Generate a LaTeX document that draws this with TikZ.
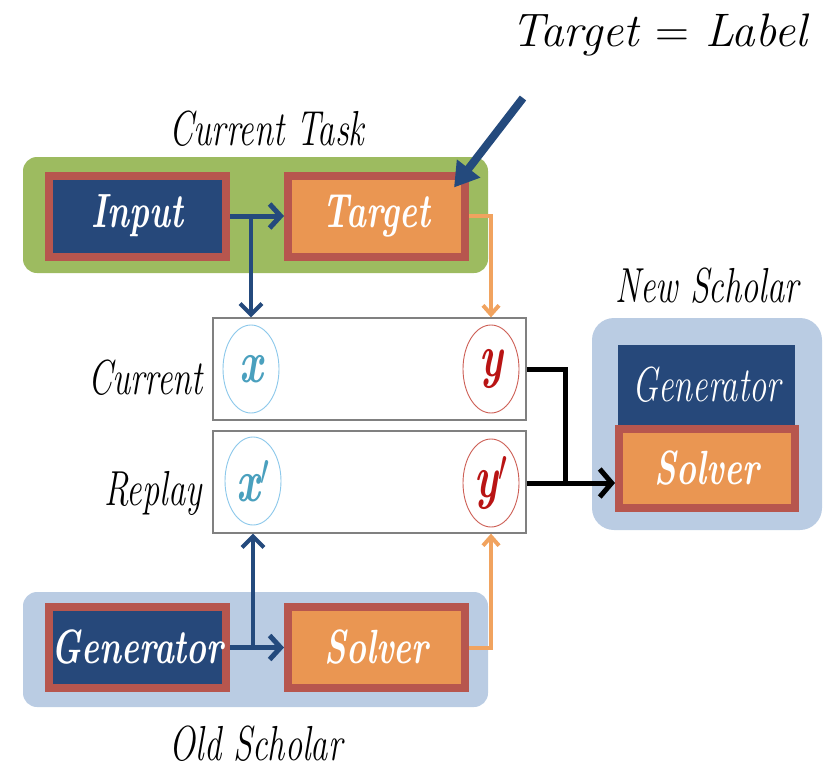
\documentclass[tikz,border=0pt]{standalone}
\usepackage{fontspec}
\usepackage{graphicx}
\usetikzlibrary{arrows.meta,shapes.geometric,calc}

\definecolor{navy}{RGB}{38,72,122}
\definecolor{brd}{RGB}{183,86,78}
\definecolor{orng}{RGB}{234,150,82}
\definecolor{orline}{RGB}{241,163,95}
\definecolor{grn}{RGB}{157,187,96}
\definecolor{lblue}{RGB}{186,204,227}
\definecolor{arblue}{RGB}{36,74,125}
\definecolor{elblue}{RGB}{140,200,235}
\definecolor{elred}{RGB}{205,95,85}
\definecolor{xcol}{RGB}{74,160,190}
\definecolor{ycol}{RGB}{185,20,20}

% tall, narrow lettering
\newcommand{\tall}[1]{\scalebox{0.84}[1.2]{#1}}
% a prime mark sized for the large variable letters
\newcommand{\bigprime}{\raisebox{13pt}{\scalebox{1.5}{$\prime$}}}

\begin{document}
\begin{tikzpicture}[x=1pt,y=-1pt,
  grp/.style={rectangle, rounded corners=14pt, inner sep=0pt},
  blk/.style={rectangle, draw=brd, line width=8pt, inner sep=0pt,
    minimum width=177pt, minimum height=81pt, text=white,
    font=\fontsize{40}{40}\selectfont\bfseries\itshape},
  navyblk/.style={blk, fill=navy},
  orblk/.style={blk, fill=orng},
  slot/.style={rectangle, draw=gray, line width=1.3pt, fill=white,
    minimum width=313pt, minimum height=102pt, inner sep=0pt},
  var/.style={ellipse, line width=0.9pt, fill=white, inner sep=0pt,
    minimum width=56pt, minimum height=88pt,
    font=\fontsize{50}{50}\selectfont\bfseries\itshape},
  lbl/.style={inner sep=0pt, font=\fontsize{41}{41}\selectfont\itshape},
  barrow/.style={draw=arblue, line width=5pt,
    -{Straight Barb[length=11pt,width=24pt,line width=5pt]}},
  bvert/.style={draw=arblue, line width=4pt,
    -{Straight Barb[length=11pt,width=22pt,line width=4pt]}},
  oarr/.style={draw=orline, line width=4pt,
    -{Straight Barb[length=9pt,width=16pt,line width=4pt]}},
  kline/.style={draw=black, line width=5pt},
  karr/.style={draw=black, line width=5pt,
    -{Straight Barb[length=12pt,width=28pt,line width=5pt]}},
  darr/.style={draw=arblue, line width=8pt,
    -{Triangle[length=24pt,width=28pt]}}
]
\useasboundingbox (0,0) rectangle (834,768);

% group backgrounds
\node[grp, fill=grn, minimum width=465pt, minimum height=116pt] (task) at (255.5,215) {};
\node[grp, fill=lblue, minimum width=465pt, minimum height=115pt] (old) at (255.5,649.5) {};
\node[grp, fill=lblue, rounded corners=22pt, minimum width=230pt, minimum height=212pt] (new) at (707,424) {};

% current task
\node[navyblk] (inp) at (137.5,216) {\tall{Input}};
\node[orblk] (tgt) at (376.5,216) {\tall{Target}};

% old scholar
\node[navyblk] (ogen) at (137.5,647.5) {\tall{Generator}};
\node[orblk] (osol) at (376.5,647.5) {\tall{Solver}};

% new scholar
\node[rectangle, fill=navy, inner sep=0pt, minimum width=177pt, minimum height=80pt,
  text=white, font=\fontsize{41}{41}\selectfont\itshape] (ngen) at (706.5,385) {\tall{Generator}};
\node[orblk, minimum width=176pt, minimum height=79pt] (nsol) at (707,468.5) {\tall{Solver}};

% data slots
\node[slot] (cur) at (369.5,369) {};
\node[slot] (rep) at (369.5,482) {};
\node[var, draw=elblue, text=xcol] (xe) at (251,369) {\tall{x}};
\node[var, draw=elred, text=ycol] (ye) at (491,369) {\tall{y}};
\node[var, draw=elblue, text=xcol] (xr) at (253,481) {\tall{x\bigprime}};
\node[var, draw=elred, text=ycol] (yr) at (491,483) {\tall{y\bigprime}};

% labels
\node[inner sep=0pt, anchor=base, font=\fontsize{47}{47}\selectfont\itshape] (eq) at (659,47) {Target {\upshape=} Label};
\node[lbl, anchor=base] (ltask) at (267,145) {\tall{Current Task}};
\node[lbl, anchor=base] (lnew) at (707,302) {\tall{New Scholar}};
\node[lbl, anchor=base] (lold) at (256,760) {\tall{Old Scholar}};
\node[lbl, anchor=base east] (lcur) at (203,394) {\tall{Current}};
\node[lbl, anchor=base east] (lrep) at (202,505) {\tall{Replay}};

% connectors: current task
\draw[barrow] (inp.east) -- (tgt.west);
\coordinate (jx) at (xe.center |- inp.east);
\draw[bvert] (jx) -- (xe.center |- cur.north);
\draw[oarr] (tgt.east) -| (ye.center |- cur.north);

% connectors: old scholar
\draw[barrow] (ogen.east) -- (osol.west);
\coordinate (jo) at (xr.center |- ogen.east);
\draw[bvert] (jo) -- (xr.center |- rep.south);
\draw[oarr] (osol.east) -| (yr.center |- rep.south);

% connectors: into the new solver
\coordinate (mj) at ($(rep.east |- yr.center)+(39,0)$);
\draw[kline] (cur.east |- ye.center) -| (mj);
\draw[karr] (rep.east |- yr.center) -- (nsol.west |- yr.center);

% pointer from the equation
\coordinate (dstart) at (523,98);
\coordinate (dtip) at ($(tgt.north east)+(-15,16)$);
\draw[darr] (dstart) -- (dtip);
\end{tikzpicture}
\end{document}
